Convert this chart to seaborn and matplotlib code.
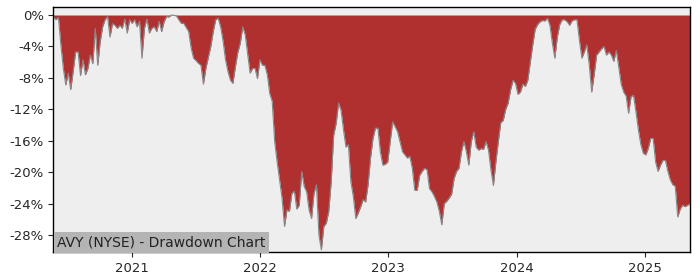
import numpy as np
import pandas as pd
import matplotlib
matplotlib.use("Agg")
import matplotlib.pyplot as plt
import matplotlib.dates as mdates
import seaborn as sns

title_text = "AVY (NYSE) - Drawdown Chart"
start_date = "2020-05-22"
# weekly drawdown values (percent below running peak)
drawdown = [
    0.2, 0.6, 0.3, 3.8, 6.8, 8.9, 7.4, 9.5, 7.2, 4.7,
    4.7, 7.7, 5.7, 7.6, 6.8, 5.1, 6.2, 1.7, 6.4, 3.4,
    1.5, 0.6, 0.2, 2.8, 1.1, 1.3, 1.7, 1.3, 1.7, 0.5,
    2.3, 0.6, 1.06, 0.6, 1.5, 0.8, 5.5, 1.7, 0.5, 2.3,
    1.7, 1.5, 2.1, 0.8, 2.1, 0.85, 0.2, 0.25, 0.0, 0.05,
    0.1, 0.6, 1.06, 1.06, 1.6, 2.1, 4.2, 5.5, 5.8, 6.15,
    6.4, 8.8, 6.8, 5.4, 4.0, 2.1, 0.6, 0.4, 1.5, 3.3,
    5.7, 7.2, 8.3, 8.7, 6.6, 4.75, 3.6, 1.5, 2.5, 4.9,
    7.4, 6.8, 6.8, 8.1, 5.7, 6.4, 6.4, 7.6, 10.0, 11.0,
    16.1, 18.7, 21.0, 23.3, 26.9, 24.8, 25.0, 22.7, 22.4, 24.7,
    24.2, 19.9, 21.8, 22.5, 24.8, 25.9, 22.7, 21.6, 28.0, 29.9,
    26.9, 26.5, 25.0, 21.2, 15.3, 13.8, 11.2, 12.1, 14.6, 16.8,
    16.5, 21.2, 23.1, 25.9, 25.2, 24.4, 23.5, 23.8, 21.6, 18.2,
    15.7, 14.4, 14.4, 17.4, 19.1, 19.0, 18.7, 16.1, 13.6, 14.2,
    14.85, 16.1, 17.4, 17.8, 18.2, 18.0, 19.5, 22.3, 22.3, 20.4,
    19.9, 19.5, 19.7, 22.1, 22.5, 23.1, 23.8, 25.0, 26.7, 24.0,
    23.7, 23.3, 22.8, 20.8, 19.9, 19.5, 17.4, 16.1, 17.4, 19.1,
    16.1, 14.85, 16.8, 17.2, 17.0, 17.1, 16.1, 17.2, 19.7, 21.7,
    18.7, 16.1, 13.7, 13.4, 12.0, 11.2, 9.5, 8.3, 8.7, 10.1,
    9.8, 8.8, 9.1, 8.3, 6.0, 3.8, 1.8, 1.2, 0.85, 0.7,
    0.75, 0.4, 1.3, 3.6, 5.5, 2.8, 1.2, 0.6, 0.6, 0.85,
    1.3, 0.75, 0.6, 0.6, 3.2, 5.5, 4.7, 3.8, 6.3, 9.8,
    7.6, 5.1, 4.7, 4.3, 4.0, 5.1, 4.7, 5.1, 5.9, 4.5,
    6.6, 8.8, 9.8, 10.3, 12.5, 10.4, 10.2, 12.3, 14.6, 16.5,
    17.6, 17.8, 17.0, 15.7, 15.7, 18.7, 19.9, 19.1, 18.5, 18.5,
    19.9, 21.0, 21.6, 21.8, 25.7, 24.7, 24.2, 24.4, 24.2, 24.0,
]
y_ticks = [0, -4, -8, -12, -16, -20, -24, -28]
x_tick_years = [2021, 2022, 2023, 2024, 2025]

dates = pd.date_range(start_date, periods=len(drawdown), freq="7D")
df = pd.DataFrame({"date": dates, "dd": -np.array(drawdown)})

sns.set_style("ticks")
plt.rcParams["font.family"] = ["DejaVu Sans"]

fig = plt.figure(figsize=(7, 2.8), dpi=100)
ax = fig.add_axes([0.0764, 0.1, 0.9093, 0.875])
ax.set_facecolor("#eeeeee")

ax.fill_between(df["date"], df["dd"], 0, color="#b03030", linewidth=0)
sns.lineplot(data=df, x="date", y="dd", ax=ax, color="#888888", linewidth=0.8)

ax.set_xlim(df["date"].iloc[0], df["date"].iloc[-1])
ax.set_ylim(-30.16, 1.02)
ax.set_yticks(y_ticks)
ax.set_yticklabels([f"{v}%" for v in y_ticks])
ax.set_xticks([pd.Timestamp(f"{y}-01-01") for y in x_tick_years])
ax.set_xticklabels([str(y) for y in x_tick_years])
ax.set_xlabel("")
ax.set_ylabel("")
ax.tick_params(labelsize=9.5)
for s in ax.spines.values():
    s.set_color("black")
    s.set_linewidth(1.0)

ax.text(0.006, 0.012, title_text, transform=ax.transAxes, fontsize=10,
        ha="left", va="bottom", color="#222222",
        bbox=dict(facecolor="#b4b4b4", edgecolor="none", pad=2.5))

fig.savefig("out.png", dpi=100)
